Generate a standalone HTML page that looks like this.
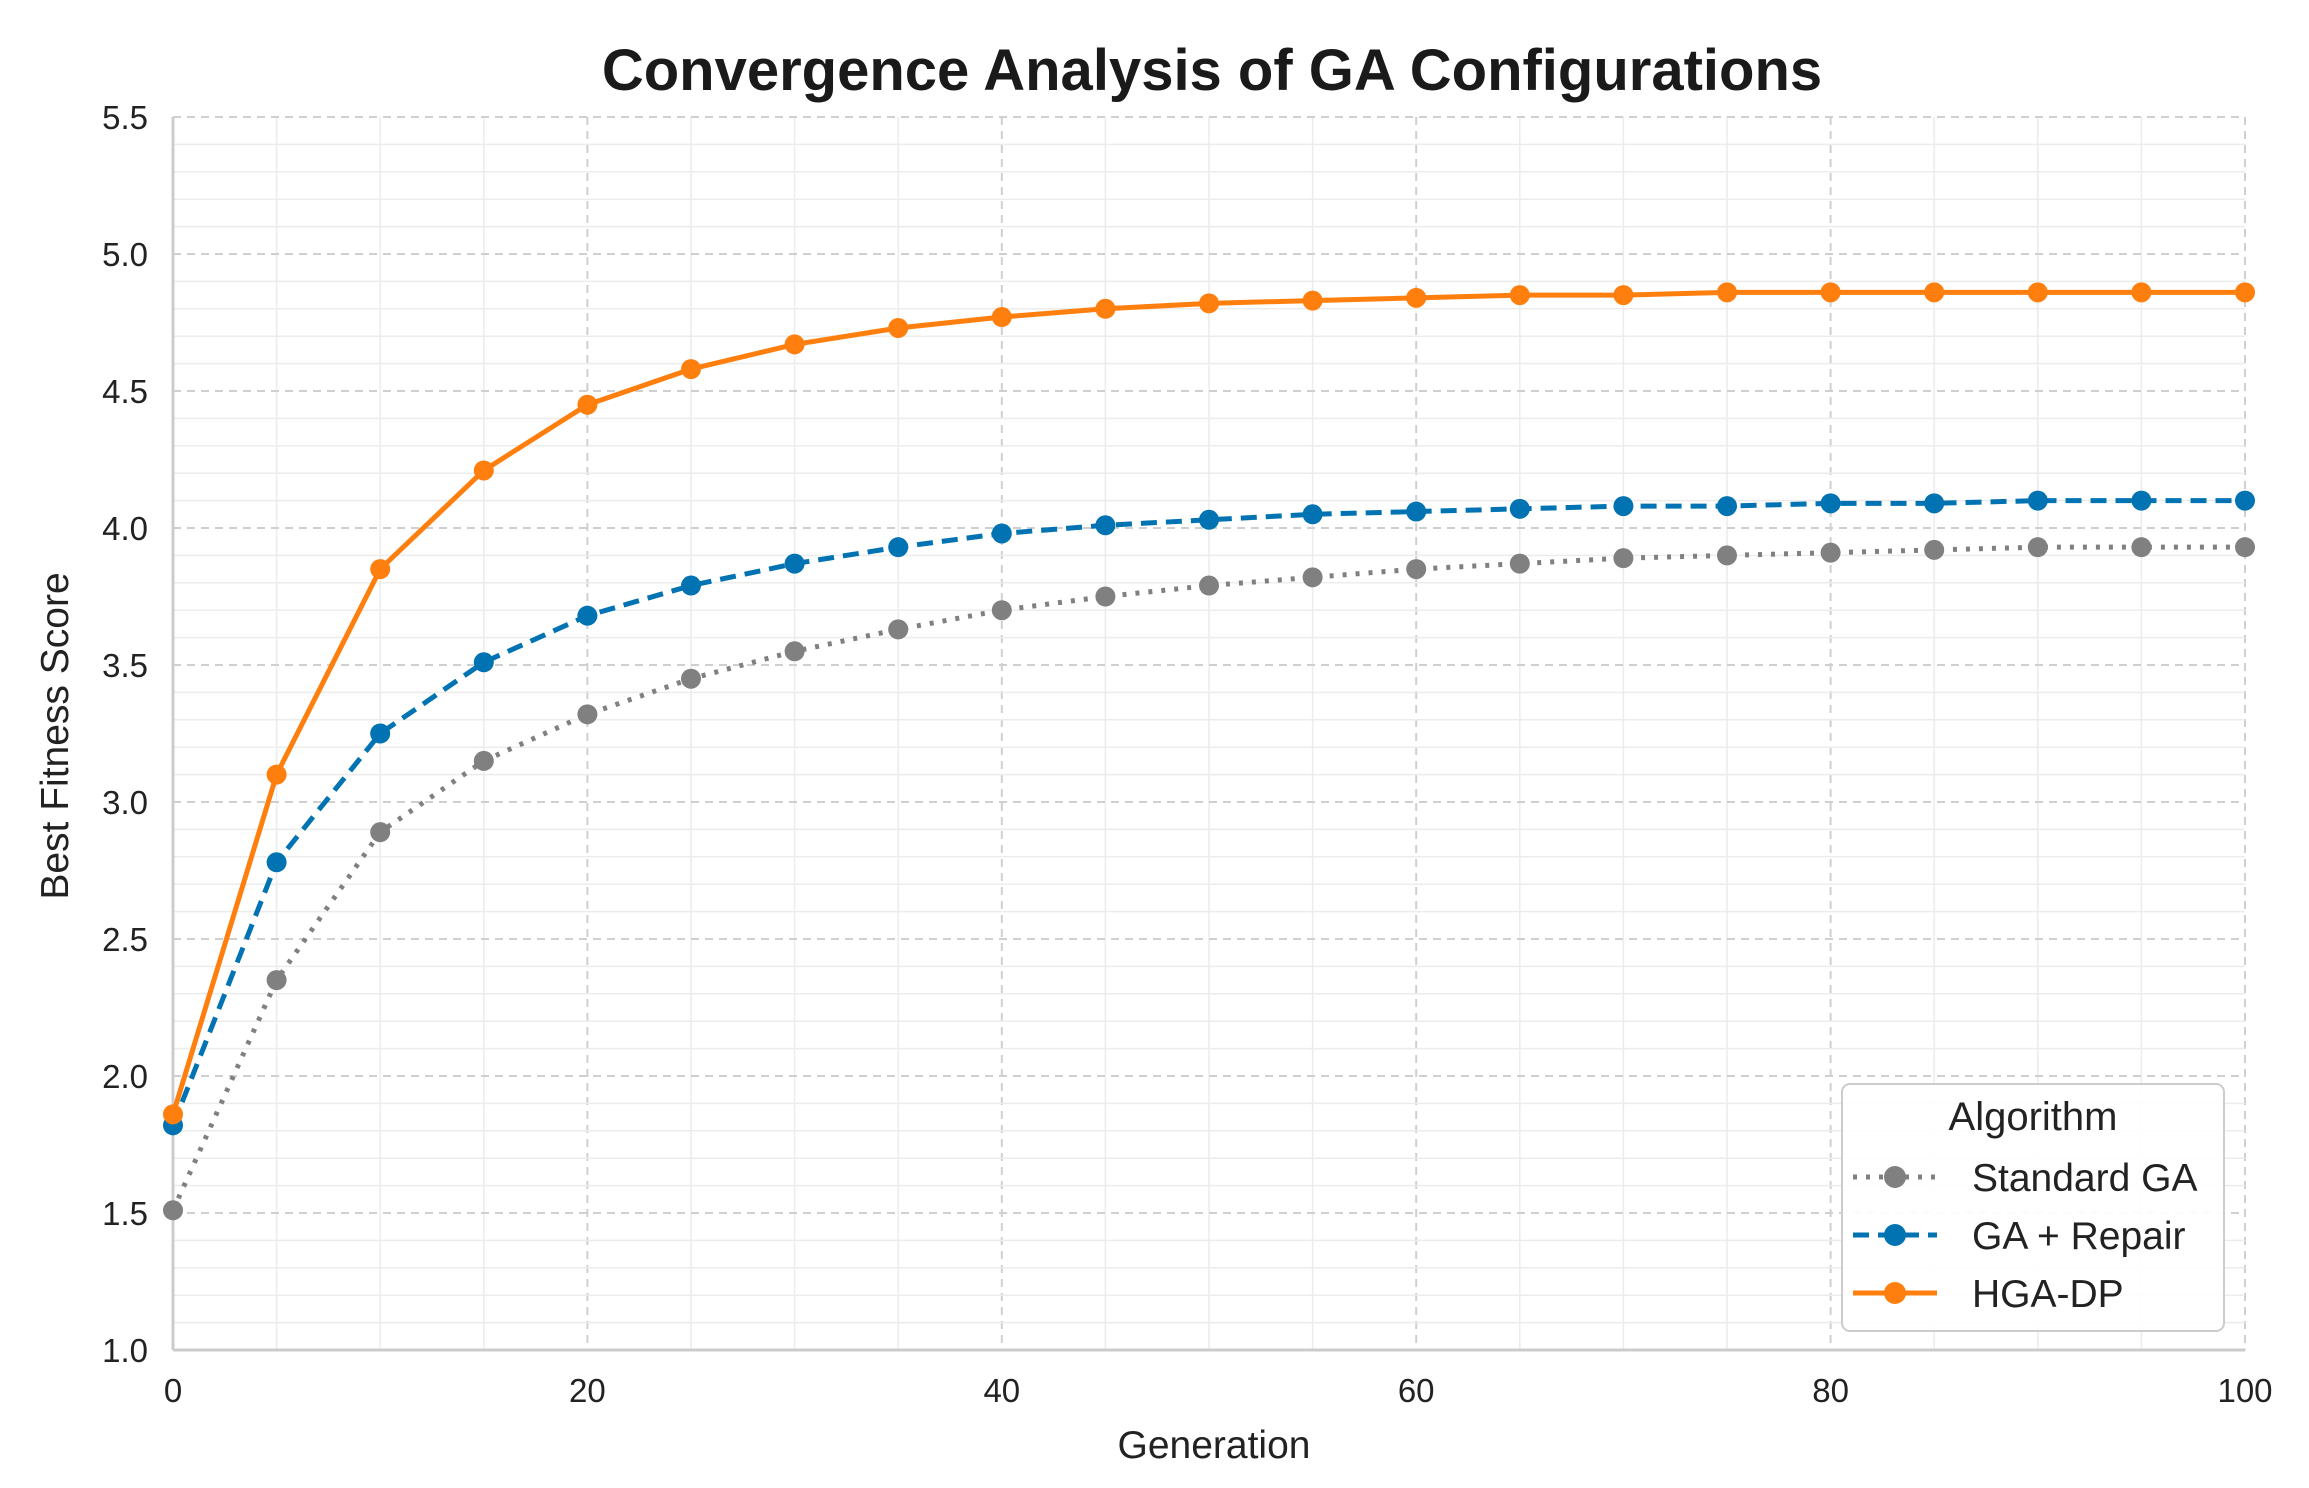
<!DOCTYPE html>
<html><head><meta charset="utf-8"><style>
html,body{margin:0;padding:0;background:#fff;}
svg{display:block;font-family:"Liberation Sans",sans-serif;}
</style></head><body>
<svg id="chart" width="2309" height="1488" viewBox="0 0 2309 1488">
<rect width="2309" height="1488" fill="#fff"/>
<text x="1212" y="90" text-anchor="middle" font-size="58" font-weight="bold" fill="#1a1a1a">Convergence Analysis of GA Configurations</text>
<g id="grid"></g>
<g id="axes"></g>
<g id="series"></g>
<text x="1214" y="1458" text-anchor="middle" font-size="39" fill="#222">Generation</text>
<text x="0" y="0" transform="translate(68,736) rotate(-90)" text-anchor="middle" font-size="39" fill="#222">Best Fitness Score</text>
<g transform="translate(-9,-4)">
<rect x="1851" y="1088" width="382" height="247" rx="8" fill="#fff" fill-opacity="0.9" stroke="#ccc" stroke-width="2"/>
<text x="2042" y="1134" text-anchor="middle" font-size="40" fill="#222">Algorithm</text>
<g>
<line x1="1862" y1="1181" x2="1946" y2="1181" stroke="#808080" stroke-width="5" stroke-dasharray="4,9"/>
<circle cx="1904" cy="1181" r="11" fill="#808080"/>
<text x="1981" y="1195" font-size="39" fill="#222">Standard GA</text></g>
<g>
<line x1="1862" y1="1239" x2="1946" y2="1239" stroke="#0173b2" stroke-width="5" stroke-dasharray="16,9"/>
<circle cx="1904" cy="1239" r="11" fill="#0173b2"/>
<text x="1981" y="1253" font-size="39" fill="#222">GA + Repair</text></g>
<g>
<line x1="1862" y1="1297" x2="1946" y2="1297" stroke="#ff7f0e" stroke-width="5"/>
<circle cx="1904" cy="1297" r="11" fill="#ff7f0e"/>
<text x="1981" y="1311" font-size="39" fill="#222">HGA-DP</text></g>
</g>
</svg>
<script>
const generations = [0,5,10,15,20,25,30,35,40,45,50,55,60,65,70,75,80,85,90,95,100];
const standardGA = [1.51,2.35,2.89,3.15,3.32,3.45,3.55,3.63,3.70,3.75,3.79,3.82,3.85,3.87,3.89,3.90,3.91,3.92,3.93,3.93,3.93];
const gaRepair = [1.82,2.78,3.25,3.51,3.68,3.79,3.87,3.93,3.98,4.01,4.03,4.05,4.06,4.07,4.08,4.08,4.09,4.09,4.10,4.10,4.10];
const hgaDP = [1.86,3.10,3.85,4.21,4.45,4.58,4.67,4.73,4.77,4.80,4.82,4.83,4.84,4.85,4.85,4.86,4.86,4.86,4.86,4.86,4.86];
const xTicks = [0,20,40,60,80,100];
const yTicks = [1.0,1.5,2.0,2.5,3.0,3.5,4.0,4.5,5.0,5.5];

const L=173,R=2245,T=117,B=1350;
const X0=0,X1=100,Y0=1.0,Y1=5.5;
function sx(v){return L+(v-X0)/(X1-X0)*(R-L);}
function sy(v){return B-(v-Y0)/(Y1-Y0)*(B-T);}
const NS="http://www.w3.org/2000/svg";
function mk(tag,attrs,parent){const e=document.createElementNS(NS,tag);for(const k in attrs)e.setAttribute(k,attrs[k]);parent.appendChild(e);return e;}
const grid=document.getElementById('grid'),axes=document.getElementById('axes'),series=document.getElementById('series');

for(let v=0;v<=100;v+=5){
  const major = v%20===0;
  const ln=mk('line',{x1:sx(v),x2:sx(v),y1:T,y2:B,stroke:major?'#cfcfcf':'#ececec','stroke-width':major?2:1.5,'stroke-dasharray':major?'8,6':'none'},grid);
  
  
}
for(let i=0;i<=45;i++){
  const v=1.0+i*0.1; const major=i%5===0;
  const ln=mk('line',{x1:L,x2:R,y1:sy(v),y2:sy(v),stroke:major?'#cfcfcf':'#ececec','stroke-width':major?2:1.5,'stroke-dasharray':major?'8,6':'none'},grid);
  
  
}
const ax1=mk('line',{x1:L,x2:L,y1:T,y2:B,stroke:'#cccccc','stroke-width':3},axes);


const ax2=mk('line',{x1:L,x2:R,y1:B,y2:B,stroke:'#cccccc','stroke-width':3},axes);


xTicks.forEach(v=>{
  const t=mk('text',{x:sx(v),y:B+52,'text-anchor':'middle','font-size':33,fill:'#222'},axes);
  t.textContent=String(v);
  
  
});
yTicks.forEach(v=>{
  const t=mk('text',{x:L-25,y:sy(v)+12,'text-anchor':'end','font-size':33,fill:'#222'},axes);
  t.textContent=v.toFixed(1);
  
  
});
function drawSeries(vals,color,dash,name){
  const g=mk('g',{},series);
  
  
  const pts=vals.map((v,i)=>sx(generations[i])+','+sy(v)).join(' ');
  const pl=mk('polyline',{points:pts,fill:'none',stroke:color,'stroke-width':5,'stroke-dasharray':dash,'stroke-linejoin':'round'},g);
  
  
  vals.forEach((v,i)=>{
    const c=mk('circle',{cx:sx(generations[i]),cy:sy(v),r:10,fill:color},g);
    
    
  });
}
drawSeries(standardGA,'#808080','4,9','standard-ga-series');
drawSeries(gaRepair,'#0173b2','16,9','ga-repair-series');
drawSeries(hgaDP,'#ff7f0e','none','hga-dp-series');
</script>
</body></html>
